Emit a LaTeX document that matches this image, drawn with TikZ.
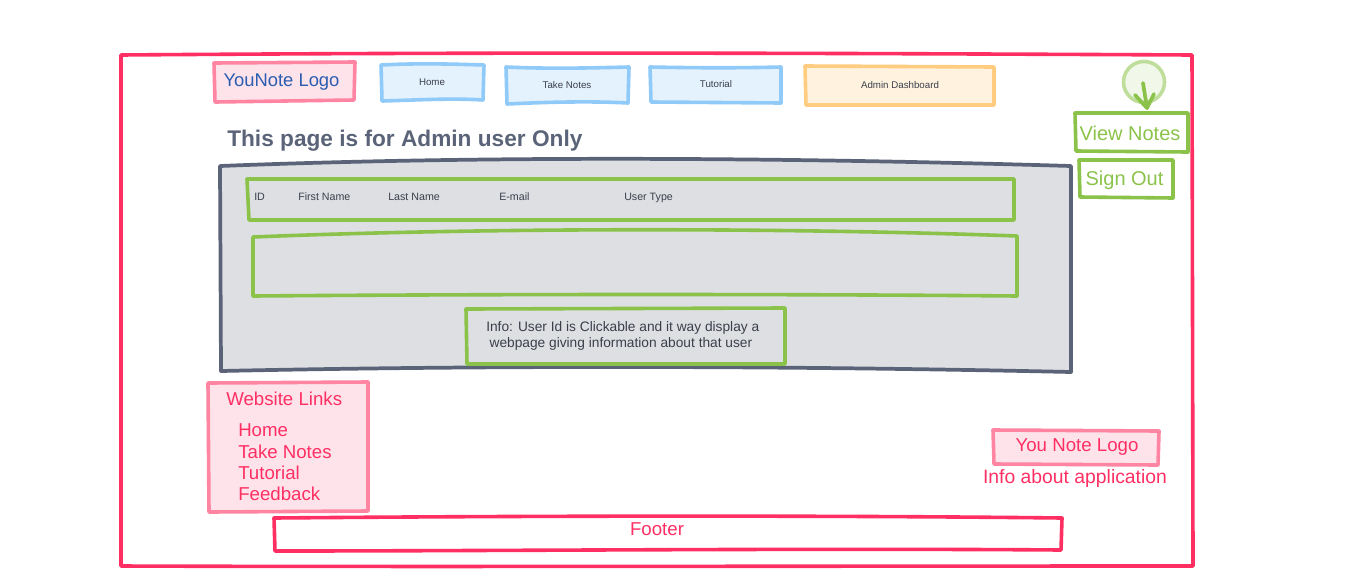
\documentclass[tikz,border=0pt]{standalone}
\usepackage{fontspec}
\setmainfont{Liberation Sans}
\definecolor{redline}{HTML}{FF2F63}
\definecolor{pinkline}{HTML}{FF85A2}
\definecolor{pinkfill}{HTML}{FFE3EB}
\definecolor{blueline}{HTML}{90CAF9}
\definecolor{bluefill}{HTML}{E3F2FD}
\definecolor{orangeline}{HTML}{FFCC80}
\definecolor{orangefill}{HTML}{FFF3E0}
\definecolor{greenline}{HTML}{8BC34A}
\definecolor{slateline}{HTML}{5A6378}
\definecolor{slatefill}{HTML}{DEDFE3}
\definecolor{logotext}{HTML}{2A5DB0}
\definecolor{smalltext}{HTML}{3A3F4A}
\tikzset{
	x=0.75pt, y=-0.75pt,
	redbox/.style={draw=redline, line width=2.700pt, line join=round},
	pinkbox/.style={draw=pinkline, fill=pinkfill, line width=2.700pt, line join=round},
	bluebox/.style={draw=blueline, fill=bluefill, line width=2.700pt, line join=round},
	orangebox/.style={draw=orangeline, fill=orangefill, line width=2.700pt, line join=round},
	greenbox/.style={draw=greenline, line width=2.700pt, line join=round},
	slatebox/.style={draw=slateline, fill=slatefill, line width=2.800pt, line join=round},
	smalllabel/.style={text=smalltext, font=\fontsize{7.300}{9}\selectfont, inner sep=0pt},
	tinylabel/.style={text=smalltext, font=\fontsize{8}{10}\selectfont, inner sep=0pt},
	redlabel/.style={text=redline, font=\fontsize{14}{16}\selectfont, inner sep=0pt},
	greenlabel/.style={text=greenline, font=\fontsize{15}{17}\selectfont, inner sep=0pt}
}
\begin{document}
\begin{tikzpicture}
	\useasboundingbox (0,0) rectangle (1366,568);
	% page frame
	\draw [redbox] (121,55) .. controls (500,52) and (800,53) .. (1192,55) -- (1193,566) .. controls (800,566) and (400,567) .. (121,566) -- cycle;

	% top bar
	\draw [pinkbox] (214,63) -- (355,62) -- (354,100) -- (215,102) -- cycle;
	\draw [bluebox] (381,65) .. controls (420,63) and (450,64) .. (484,65) -- (483,100) .. controls (450,98) and (420,100) .. (382,101) -- cycle;
	\draw [bluebox] (506,67) .. controls (550,69) and (590,68) .. (629,67) -- (628,103) .. controls (590,101) and (550,102) .. (507,104) -- cycle;
	\draw [bluebox] (650,67) .. controls (700,68) and (740,68) .. (781,67) -- (781,103) -- (651,102) -- cycle;
	\draw [orangebox] (805,66) -- (994,67) -- (994,105) -- (806,105) -- cycle;
	\node [text=logotext, font=\fontsize{13.800}{16}\selectfont, inner sep=0pt] (logotitle) at (281.500,82.500) {YouNote Logo};
	\node [smalllabel] (homelink) at (432,82) {Home};
	\node [smalllabel] (noteslink) at (567,85) {Take Notes};
	\node [smalllabel] (tutoriallink) at (716,84) {Tutorial};
	\node [smalllabel] (adminlink) at (900,85) {Admin Dashboard};

	% user menu
	\draw [draw=greenline!55, fill=greenline!12, line width=2.700pt] (1144,82) circle (20.500);
	\draw [draw=greenline, line width=2.800pt, line cap=round, line join=round] (1143,83) -- (1147,108);
	\draw [draw=greenline, line width=2.800pt, line cap=round, line join=round] (1135,95) -- (1147,108) -- (1154,94);
	\draw [greenbox] (1075,113) -- (1188,113) -- (1188,152) -- (1076,151) -- cycle;
	\draw [greenbox] (1079,160) -- (1173,160) -- (1173,198) -- (1080,197) -- cycle;
	\node [greenlabel] (viewnotes) at (1130,133) {View Notes};
	\node [greenlabel] (signout) at (1124.500,180.500) {Sign Out};

	% title
	\node [text=slateline, font=\bfseries\fontsize{17}{20}\selectfont, inner sep=0pt, anchor=west] (pagetitle) at (227,141) {This page is for Admin user Only};

	% user table
	\draw [slatebox] (220,166) .. controls (500,155) and (800,158) .. (1071,166) -- (1071,372) .. controls (800,366) and (500,365) .. (221,371) -- cycle;
	\draw [greenbox] (247,179) -- (1014,179) -- (1014,220) -- (249,220) -- cycle;
	\draw [greenbox] (253,237) .. controls (500,227) and (800,228) .. (1017,236) -- (1017,296) .. controls (800,294) and (500,294) .. (253,296) -- cycle;
	\draw [greenbox] (466,309) -- (785,308) -- (785,364) -- (467,364) -- cycle;
	\node [tinylabel, anchor=west] (idcol) at (254,197) {ID};
	\node [tinylabel, anchor=west] (firstcol) at (298,197) {First Name};
	\node [tinylabel, anchor=west] (lastcol) at (388,197) {Last Name};
	\node [tinylabel, anchor=west] (mailcol) at (499,197) {E-mail};
	\node [tinylabel, anchor=west] (typecol) at (624,197.500) {User Type};
	\node [text=smalltext, font=\fontsize{10.300}{12}\selectfont, inner sep=0pt, align=left, anchor=west] (infotext) at (486,335.500) {Info: User Id is Clickable and it way display a\\ \hspace*{2.500pt}webpage giving information about that user};

	% footer area
	\draw [pinkbox] (208,383) -- (368,382) -- (368,511) -- (209,512) -- cycle;
	\draw [pinkbox] (993,430) -- (1159,431) -- (1158,465) -- (994,464) -- cycle;
	\draw [redbox] (274,518) .. controls (500,516) and (800,515) .. (1062,518) -- (1061,550) .. controls (800,548) and (500,551) .. (275,551) -- cycle;
	\node [redlabel, anchor=west] (linkstitle) at (226,399) {Website Links};
	\node [redlabel, anchor=west] (homeitem) at (238,430) {Home};
	\node [redlabel, anchor=west] (notesitem) at (238,452) {Take Notes};
	\node [redlabel, anchor=west] (tutorialitem) at (238,473) {Tutorial};
	\node [redlabel, anchor=west] (feedbackitem) at (238,494) {Feedback};
	\node [redlabel] (footerlogo) at (1077,447.500) {You Note Logo};
	\node [text=redline, font=\fontsize{14.500}{16}\selectfont, inner sep=0pt] (appinfo) at (1075,478.500) {Info about application};
	\node [redlabel] (footertext) at (657,529) {Footer};
\end{tikzpicture}
\end{document}
